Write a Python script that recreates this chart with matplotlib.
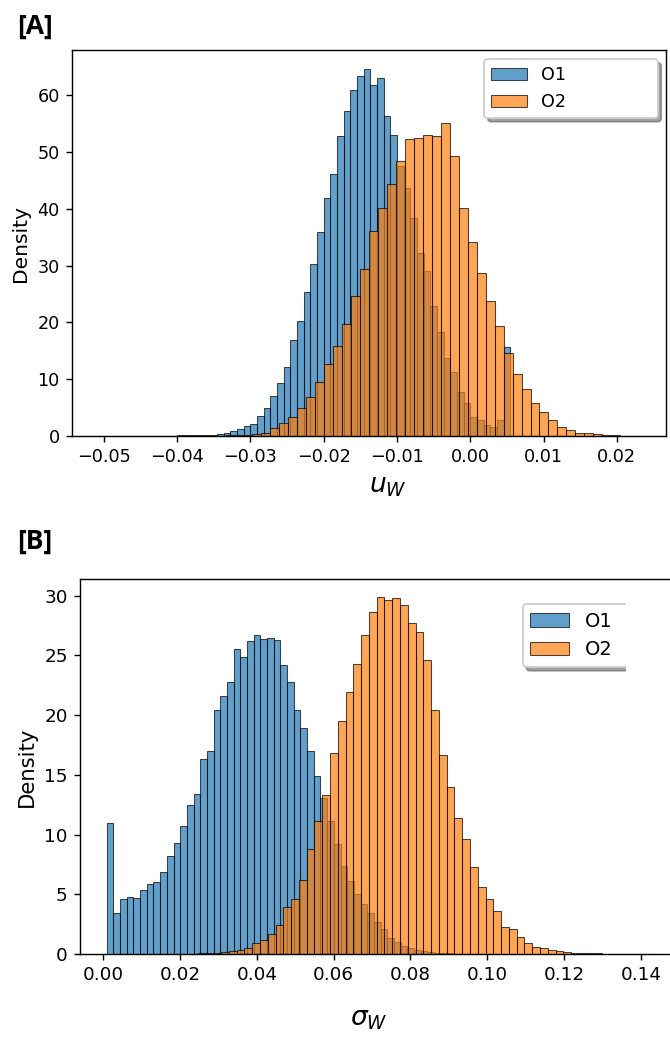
import numpy as np
import matplotlib
matplotlib.use("Agg")
import matplotlib.pyplot as plt
from matplotlib.patches import Rectangle

# ---- panel A: u_W densities, bins left -> right ----
U_O1_RANGE = (-0.05091, 0.005455)
U_O1 = [0.02, 0.02, 0.02, 0.03, 0.03, 0.03, 0.04, 0.04, 0.05, 0.06,
        0.07, 0.08, 0.10, 0.12, 0.14, 0.17, 0.20, 0.25, 0.35,
        0.5, 0.8, 1.2, 1.8, 2.1, 3.5, 4.9, 7.1, 9.3, 12.2, 16.9, 20.2,
        25.3, 30.3, 35.9, 42.0, 46.1, 52.8, 57.3, 60.9, 63.5, 64.7, 61.9,
        63.0, 56.3, 53.0, 47.5, 43.7, 38.4, 32.2, 29.1, 22.9, 18.3, 13.8,
        11.2, 7.7, 5.8, 3.4, 2.9, 1.9, 1.5, 2.8, 15.7]
U_O2_RANGE = (-0.03825, 0.02290)
U_O2 = [0.02, 0.03, 0.04, 0.06, 0.10, 0.15, 0.25, 0.40, 0.60, 1.35,
        2.35, 3.4, 5.0, 6.9, 9.5, 12.7, 15.8, 19.8, 24.6, 29.5, 36.2,
        40.1, 44.4, 48.5, 52.3, 52.5, 53.1, 52.8, 55.2, 49.4, 40.1, 34.1,
        28.8, 23.7, 19.3, 14.6, 10.9, 8.2, 5.8, 4.2, 2.9, 1.6, 1.06, 0.6,
        0.47, 0.3, 0.18, 0.12, 0.07, 0.05]

# ---- panel B: sigma_W densities ----
S_O1_RANGE = (0.000886, 0.09833)
S_O1 = [11.0, 3.46, 4.6, 4.74, 4.66, 5.36, 5.83, 6.06, 6.84, 8.2, 9.27,
        10.7, 12.5, 13.4, 16.3, 17.0, 20.4, 21.6, 22.8, 25.5, 24.9, 26.2,
        26.7, 26.4, 26.5, 26.3, 24.2, 22.8, 20.4, 18.9, 17.0, 14.9, 13.1,
        11.1, 9.2, 7.4, 6.1, 5.0, 4.2, 3.4, 2.7, 2.1, 1.3, 1.0, 0.7, 0.5,
        0.35, 0.25, 0.18, 0.12, 0.08, 0.06, 0.04, 0.03, 0.02, 0.01]
S_O2_RANGE = (0.02258, 0.14414)
S_O2 = [0.03, 0.05, 0.07, 0.1, 0.15, 0.25, 0.35, 0.5, 0.9, 1.2, 1.7, 2.4,
        3.9, 4.6, 6.2, 8.8, 11.1, 13.3, 16.8, 19.5, 21.9, 24.3, 26.7, 28.6,
        29.9, 29.6, 29.8, 29.2, 27.7, 27.0, 24.6, 20.4, 16.7, 14.0, 11.4,
        9.6, 7.3, 5.6, 4.6, 3.6, 2.3, 2.1, 1.4, 0.9, 0.6, 0.47, 0.33, 0.22,
        0.17, 0.12, 0.09, 0.07, 0.05, 0.04, 0.03, 0.02, 0.02, 0.01, 0.01,
        0.01]

LABELS = ["O1", "O2"]
COLORS = ["#1f77b4", "#ff7f0e"]

W, H, DPI = 670, 1056, 127
fig = plt.figure(figsize=(W / DPI, H / DPI), dpi=DPI)


def box(x0, y0, x1, y1):
    """pixel box (top-left origin) -> figure fraction rect"""
    return [x0 / W, 1 - y1 / H, (x1 - x0) / W, (y1 - y0) / H]


def hist(ax, rng, dens, color, label):
    edges = np.linspace(rng[0], rng[1], len(dens) + 1)
    ax.bar(edges[:-1], dens, width=np.diff(edges), align="edge", color=color,
           alpha=0.7, edgecolor="black", linewidth=0.6, label=label)


# panel A
axA = fig.add_axes(box(72, 50, 666, 436))
hist(axA, U_O1_RANGE, U_O1, COLORS[0], LABELS[0])
hist(axA, U_O2_RANGE, U_O2, COLORS[1], LABELS[1])
axA.set_xlim(-0.0543, 0.0267)
axA.set_ylim(0, 68)
axA.set_xticks(np.arange(-0.05, 0.021, 0.01))
axA.set_yticks(np.arange(0, 61, 10))
axA.set_ylabel("Density", fontsize=11.5)
axA.set_xlabel("$u_W$", fontsize=15)
axA.xaxis.label.set_x(0.532)
axA.legend(loc="upper left", bbox_to_anchor=(0.694, 0, 0.292, 0.976),
           mode="expand", borderaxespad=0, shadow=True, fontsize=10)

# panel B
axB = fig.add_axes(box(80, 579, 670, 954))
hist(axB, S_O1_RANGE, S_O1, COLORS[0], LABELS[0])
hist(axB, S_O2_RANGE, S_O2, COLORS[1], LABELS[1])
axB.set_xlim(-0.00607, 0.1476)
axB.set_ylim(0, 31.4)
axB.set_xticks(np.arange(0, 0.141, 0.02))
axB.set_yticks(np.arange(0, 31, 5))
axB.spines["right"].set_visible(False)
axB.tick_params(labelsize=10.4)
axB.set_ylabel("Density", fontsize=12)
axB.set_xlabel(r"$\sigma_W$", fontsize=15, labelpad=12)
axB.xaxis.label.set_x(0.49)
axB.legend(loc="upper left", bbox_to_anchor=(0.7503, 0, 0.34, 0.9333),
           mode="expand", borderaxespad=0, shadow=True, fontsize=11)
# the source image cut the B legend off on its right side
fig.add_artist(Rectangle((626 / W, 1 - 690 / H), (W - 626) / W, 92 / H,
                         transform=fig.transFigure, facecolor="white",
                         edgecolor="none", zorder=10))

fig.text(17 / W, 1 - 13 / H, "[A]", fontsize=15, fontweight="bold",
         family="Open Sans", va="top")
fig.text(17 / W, 1 - 528 / H, "[B]", fontsize=15, fontweight="bold",
         family="Open Sans", va="top")

fig.savefig("out.png", dpi=DPI)
